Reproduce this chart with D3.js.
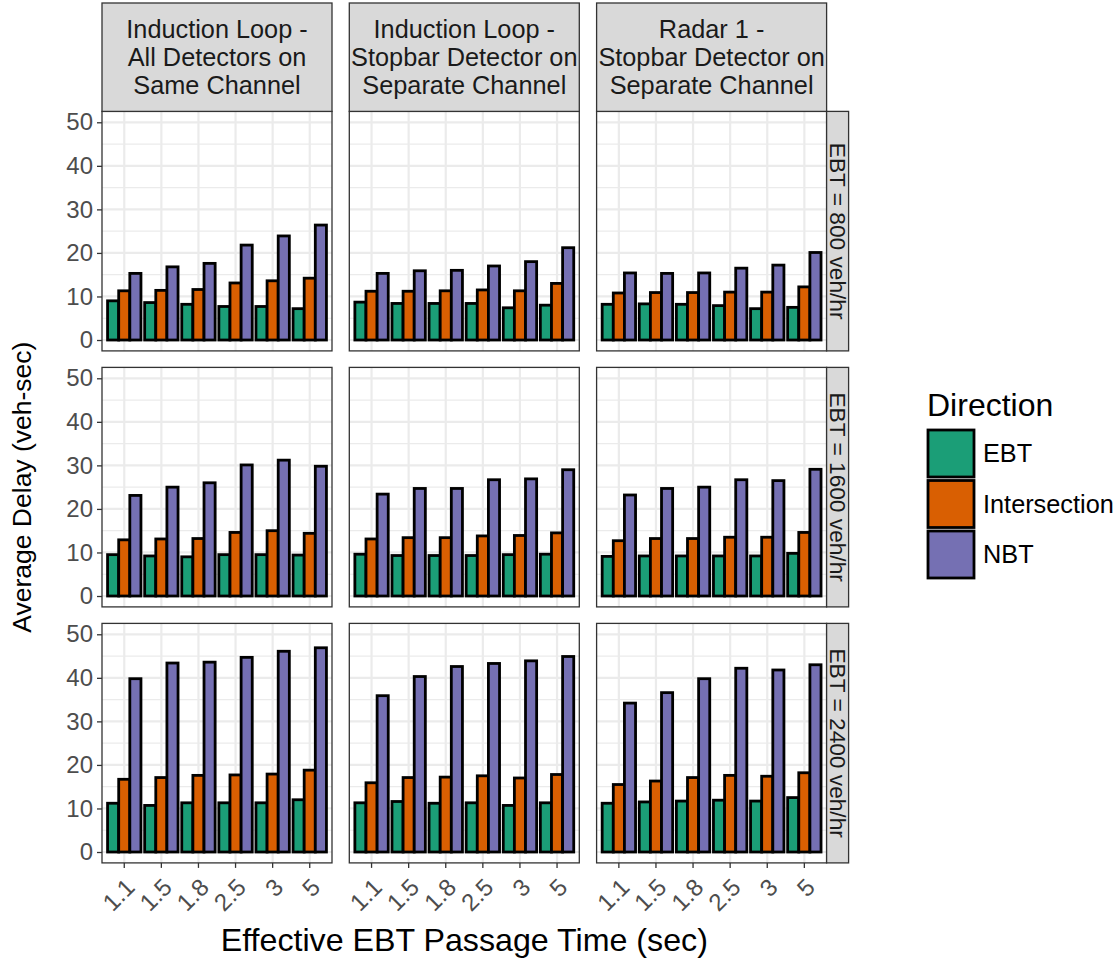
<!DOCTYPE html>
<html>
<head>
<meta charset="utf-8">
<script src="https://cdn.jsdelivr.net/npm/d3@7"></script>
<style>
  body { margin: 0; background: #fff; }
  text { font-family: "Liberation Sans", Arial, sans-serif; }
</style>
</head>
<body>
<div id="chart"></div>
<script>
// categories and labels
var passageTimes = ["1.1", "1.5", "1.8", "2.5", "3", "5"];
var directions = ["EBT", "Intersection", "NBT"];
var detectorLabels = [
    ["Induction Loop -", "All Detectors on", "Same Channel"],
    ["Induction Loop -", "Stopbar Detector on", "Separate Channel"],
    ["Radar 1 -", "Stopbar Detector on", "Separate Channel"]
];
var volumeLabels = ["EBT = 800 veh/hr", "EBT = 1600 veh/hr", "EBT = 2400 veh/hr"];
var yTicks = [0, 10, 20, 30, 40, 50];
var yMinor = [5, 15, 25, 35, 45];

// values per panel: [EBT, Intersection, NBT], one value per passage time
var loopAll800 = [
    [9.0, 8.6, 8.2, 7.7, 7.7, 7.2],
    [11.3, 11.4, 11.6, 13.1, 13.6, 14.2],
    [15.3, 16.8, 17.6, 21.8, 23.9, 26.4]
];
var loopStop800 = [
    [8.7, 8.4, 8.4, 8.4, 7.4, 8.0],
    [11.2, 11.2, 11.3, 11.5, 11.3, 13.0],
    [15.3, 15.9, 16.0, 17.0, 18.0, 21.2]
];
var radar800 = [
    [8.2, 8.3, 8.2, 7.9, 7.2, 7.5],
    [10.8, 10.9, 10.9, 11.0, 11.0, 12.2],
    [15.4, 15.3, 15.4, 16.5, 17.2, 20.1]
];
var loopAll1600 = [
    [9.5, 9.2, 9.0, 9.5, 9.5, 9.4],
    [12.9, 13.1, 13.2, 14.6, 15.0, 14.4],
    [23.1, 25.0, 26.0, 30.1, 31.2, 29.8]
];
var loopStop1600 = [
    [9.6, 9.3, 9.3, 9.3, 9.5, 9.6],
    [13.1, 13.4, 13.4, 13.8, 13.9, 14.5],
    [23.4, 24.7, 24.7, 26.7, 26.9, 29.0]
];
var radar1600 = [
    [9.1, 9.2, 9.2, 9.2, 9.2, 9.8],
    [12.7, 13.2, 13.2, 13.5, 13.5, 14.6],
    [23.2, 24.7, 25.0, 26.7, 26.5, 29.1]
];
var loopAll2400 = [
    [11.2, 10.7, 11.3, 11.3, 11.3, 12.0],
    [16.7, 17.1, 17.6, 17.7, 17.9, 18.8],
    [39.8, 43.4, 43.6, 44.7, 46.1, 46.9]
];
var loopStop2400 = [
    [11.3, 11.6, 11.2, 11.3, 10.7, 11.3],
    [15.9, 17.1, 17.2, 17.5, 17.0, 17.8],
    [35.9, 40.3, 42.6, 43.3, 43.9, 44.9]
];
var radar2400 = [
    [11.2, 11.5, 11.7, 11.9, 11.7, 12.5],
    [15.5, 16.3, 17.1, 17.6, 17.4, 18.2],
    [34.2, 36.6, 39.8, 42.2, 41.8, 43.0]
];

var panels = [
    [loopAll800, loopStop800, radar800],
    [loopAll1600, loopStop1600, radar1600],
    [loopAll2400, loopStop2400, radar2400]
];

var colors = ["#1B9E77", "#D95F02", "#7570B3"];

var width = 1117, height = 959;
var panelLeft = 102, panelTop = 111.4;
var panelW = 230, panelH = 239.5;
var colStep = 247.3, rowStep = 256;

var svg = d3.select("#chart").append("svg")
    .attr("width", width)
    .attr("height", height);

// scales shared by all panels (ggplot style expansion)
var x = d3.scaleBand()
    .domain(passageTimes)
    .range([0, panelW])
    .paddingInner(0)
    .paddingOuter(0.1);

var y = d3.scaleLinear()
    .domain([-2.5, 52.5])
    .range([panelH, 0]);

var dodge = d3.scaleBand()
    .domain(directions)
    .range([x.bandwidth() * 0.05, x.bandwidth() * 0.95]);

var color = d3.scaleOrdinal().domain(directions).range(colors);

panels.forEach(function(row, r) {
    row.forEach(function(series, c) {
        var g = svg.append("g")
            .attr("transform", "translate(" + (panelLeft + c * colStep) + "," + (panelTop + r * rowStep) + ")");

        g.append("rect")
            .attr("width", panelW).attr("height", panelH)
            .attr("fill", "#fff");

        // grid
        g.selectAll(".minor").data(yMinor).enter().append("line")
            .attr("x1", 0).attr("x2", panelW)
            .attr("y1", function(d) { return y(d); })
            .attr("y2", function(d) { return y(d); })
            .attr("stroke", "#EBEBEB").attr("stroke-width", 1.2);
        g.selectAll(".major").data(yTicks).enter().append("line")
            .attr("x1", 0).attr("x2", panelW)
            .attr("y1", function(d) { return y(d); })
            .attr("y2", function(d) { return y(d); })
            .attr("stroke", "#EBEBEB").attr("stroke-width", 2.2);
        g.selectAll(".vmajor").data(passageTimes).enter().append("line")
            .attr("y1", 0).attr("y2", panelH)
            .attr("x1", function(d) { return x(d) + x.bandwidth() / 2; })
            .attr("x2", function(d) { return x(d) + x.bandwidth() / 2; })
            .attr("stroke", "#EBEBEB").attr("stroke-width", 2.2);

        // bars
        var bars = [];
        series.forEach(function(vals, k) {
            vals.forEach(function(v, i) {
                bars.push({t: passageTimes[i], dir: directions[k], value: v});
            });
        });
        g.selectAll(".bar").data(bars).enter().append("rect")
            .attr("x", function(d) { return x(d.t) + dodge(d.dir); })
            .attr("width", dodge.bandwidth())
            .attr("y", function(d) { return y(d.value); })
            .attr("height", function(d) { return y(0) - y(d.value); })
            .attr("fill", function(d) { return color(d.dir); })
            .attr("stroke", "#000")
            .attr("stroke-width", 2.8);

        // border
        g.append("rect")
            .attr("width", panelW).attr("height", panelH)
            .attr("fill", "none").attr("stroke", "#333").attr("stroke-width", 1.3);

        // y axis on first column
        if (c === 0) {
            var yAxis = g.append("g").call(d3.axisLeft(y).tickValues(yTicks).tickSize(5).tickPadding(4));
            yAxis.select(".domain").remove();
            yAxis.selectAll("line").attr("stroke", "#333").attr("stroke-width", 1.3);
            yAxis.selectAll("text")
                .attr("fill", "#4D4D4D")
                .style("font-size", "24px")
                .style("font-family", "Liberation Sans, Arial, sans-serif");
        }

        // x axis on last row
        if (r === panels.length - 1) {
            var xAxis = g.append("g")
                .attr("transform", "translate(0," + panelH + ")")
                .call(d3.axisBottom(x).tickSize(5).tickPadding(4));
            xAxis.select(".domain").remove();
            xAxis.selectAll("line").attr("stroke", "#333").attr("stroke-width", 1.3);
            xAxis.selectAll("text")
                .attr("fill", "#4D4D4D")
                .style("font-size", "24px")
                .style("font-family", "Liberation Sans, Arial, sans-serif")
                .attr("text-anchor", "end")
                .attr("dy", null)
                .attr("y", 0)
                .attr("transform", "translate(12,26) rotate(-45)");
        }

        // top strip
        if (r === 0) {
            var s = g.append("g").attr("transform", "translate(0," + (-panelTop + 3) + ")");
            var sh = panelTop - 3;
            s.append("rect")
                .attr("width", panelW).attr("height", sh)
                .attr("fill", "#D9D9D9").attr("stroke", "#333").attr("stroke-width", 1.3);
            s.selectAll("text").data(detectorLabels[c]).enter().append("text")
                .attr("x", panelW / 2)
                .attr("y", function(d, i) { return sh / 2 + (i - 1) * 28; })
                .attr("dy", "0.35em")
                .attr("text-anchor", "middle")
                .attr("fill", "#1A1A1A")
                .style("font-size", "25.3px")
                .text(function(d) { return d; });
        }

        // right strip
        if (c === row.length - 1) {
            var rs = g.append("g").attr("transform", "translate(" + panelW + ",0)");
            rs.append("rect")
                .attr("width", 22).attr("height", panelH)
                .attr("fill", "#D9D9D9").attr("stroke", "#333").attr("stroke-width", 1.3);
            rs.append("text")
                .attr("transform", "translate(11," + (panelH / 2) + ") rotate(90)")
                .attr("dy", "0.35em")
                .attr("text-anchor", "middle")
                .attr("fill", "#1A1A1A")
                .style("font-size", "22.7px")
                .text(volumeLabels[r]);
        }
    });
});

// axis titles
var gridMidX = panelLeft + (2 * colStep + panelW) / 2;
var gridMidY = panelTop + (2 * rowStep + panelH) / 2;
svg.append("text")
    .attr("x", gridMidX).attr("y", 951)
    .attr("text-anchor", "middle")
    .style("font-size", "32.2px")
    .text("Effective EBT Passage Time (sec)");
svg.append("text")
    .attr("transform", "translate(31," + gridMidY + ") rotate(-90)")
    .attr("text-anchor", "middle")
    .style("font-size", "26.5px")
    .text("Average Delay (veh-sec)");

// legend
var legend = svg.append("g").attr("transform", "translate(928,0)");
legend.append("text")
    .attr("x", -1).attr("y", 416)
    .style("font-size", "32px")
    .text("Direction");
var key = legend.selectAll(".key").data(directions).enter().append("g")
    .attr("transform", function(d, i) { return "translate(0," + (430 + i * 50.5) + ")"; });
key.append("rect")
    .attr("width", 46).attr("height", 47)
    .attr("fill", function(d) { return color(d); })
    .attr("stroke", "#000").attr("stroke-width", 2.8);
key.append("text")
    .attr("x", 55).attr("y", 23.5)
    .attr("dy", "0.35em")
    .style("font-size", "25.3px")
    .text(function(d) { return d; });
</script>
</body>
</html>
